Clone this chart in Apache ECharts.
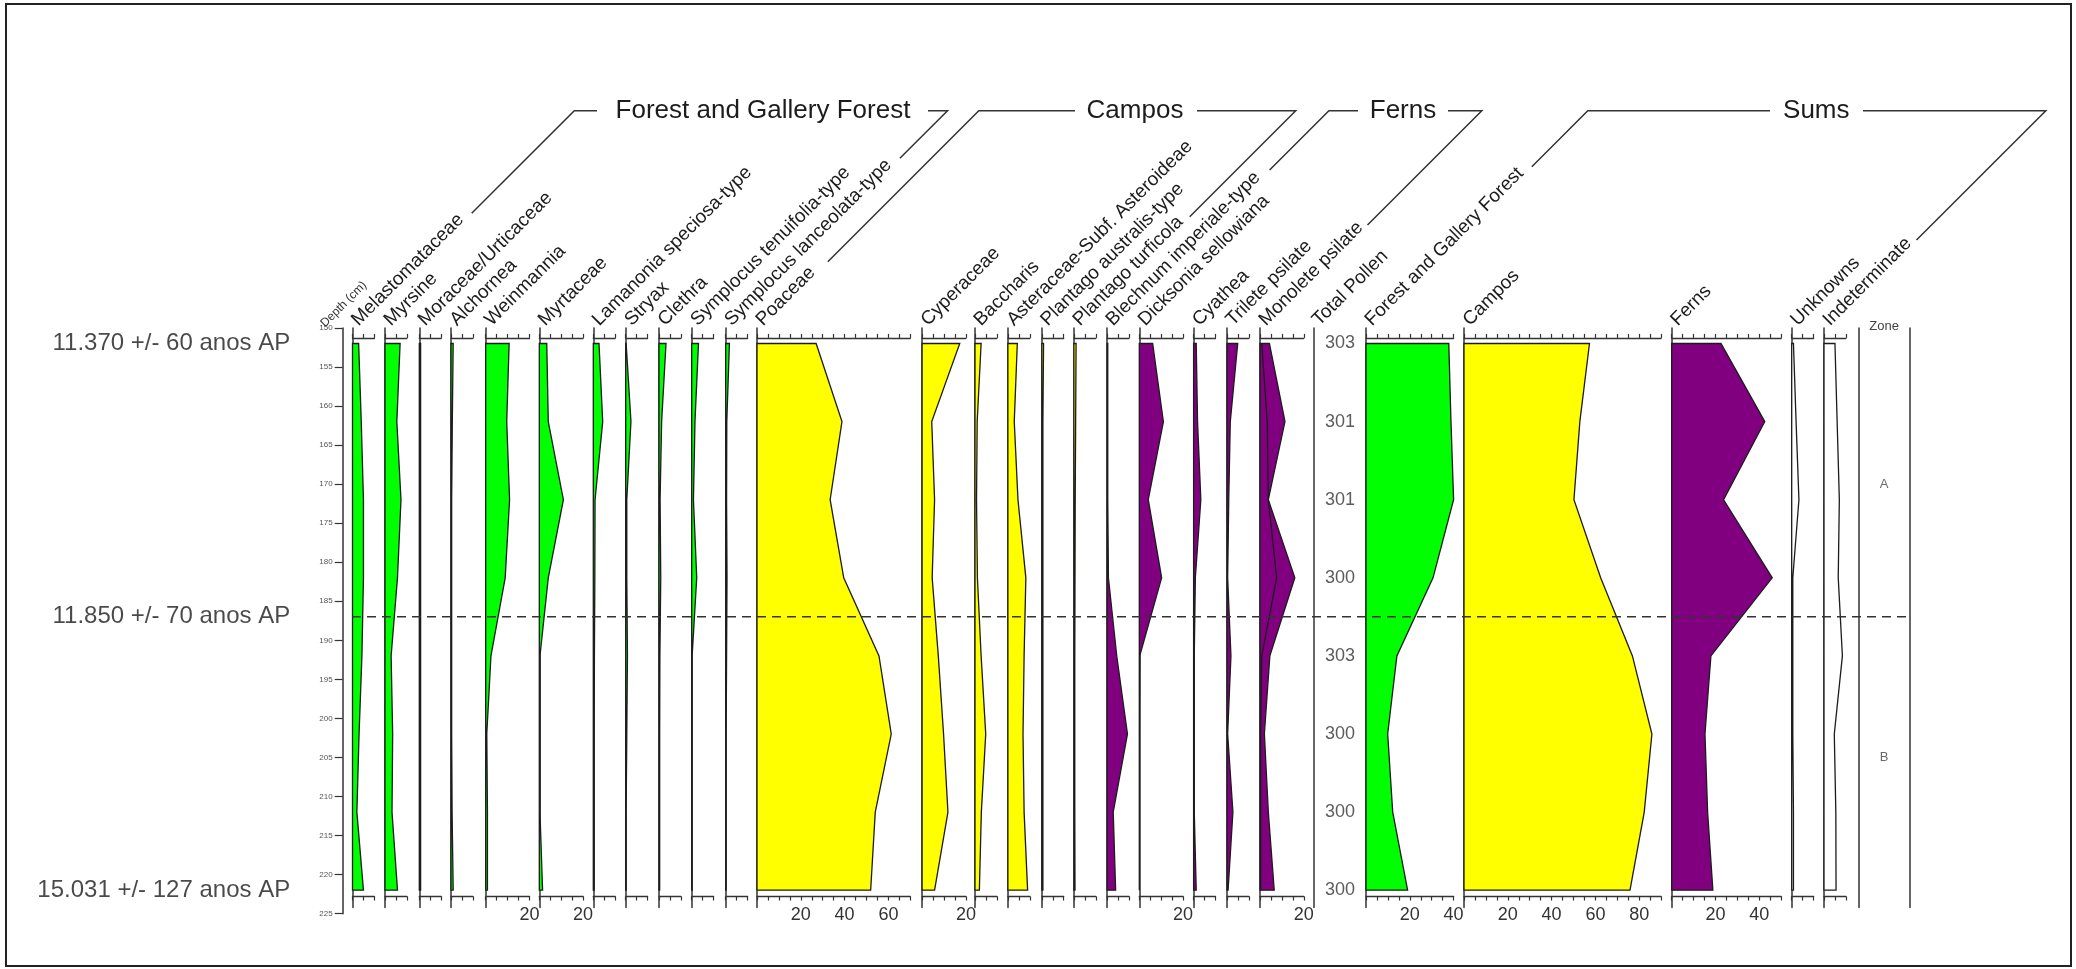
<!DOCTYPE html>
<html>
<head>
<meta charset="utf-8">
<title>Pollen diagram</title>
<script src="https://cdn.jsdelivr.net/npm/echarts@6/dist/echarts.min.js"></script>
<style>
html,body{margin:0;padding:0;background:#ffffff;}
#chart{width:2076px;height:969px;}
</style>
</head>
<body>
<div id="chart"></div>
<script>
// ---------------- data ----------------
const depths = [152, 162, 172, 182, 192, 202, 212, 222];

// Forest and Gallery Forest (%)
const melastomataceae     = [2.8, 4.0, 5.0, 5.0, 4.3, 3.0, 2.0, 5.0];
const myrsine             = [6.9, 5.4, 7.3, 5.7, 2.8, 3.5, 3.2, 5.7];
const moraceaeUrticaceae  = [0.6, 0.6, 0.6, 0.6, 0.6, 0.6, 0.6, 0.6];
const alchornea           = [1.0, 0.6, 0.3, 0.3, 0.3, 0.3, 0.5, 1.0];
const weinmannia          = [10.7, 9.6, 10.9, 8.9, 2.4, 0.5, 0.8, 0.8];
const myrtaceae           = [3.4, 4.1, 11.0, 4.1, 0.3, 0.3, 0.3, 1.5];
const lamanonia           = [2.6, 4.3, 0.8, 0.7, 0.5, 0.4, 0.4, 0.4];
const stryax              = [0.2, 2.4, 0.5, 0.5, 0.8, 0.5, 0.2, 0.2];
const clethra             = [3.2, 1.2, 0.5, 0.8, 0.4, 0.3, 0.3, 0.3];
const symplocusTenuifolia = [3.1, 1.5, 0.8, 2.3, 0.2, 0.2, 0.2, 0.2];
const symplocusLanceolata = [1.7, 0.5, 0.4, 0.6, 0.4, 0.2, 0.2, 0.2];

// Campos (%)
const poaceae           = [27.0, 38.8, 33.4, 39.6, 55.7, 61.3, 54.0, 51.9];
const cyperaceae        = [17.2, 4.4, 5.7, 4.6, 7.4, 9.8, 11.8, 5.7];
const baccharis         = [2.8, 1.0, 0.7, 1.1, 2.8, 4.9, 2.9, 2.0];
const asteraceae        = [4.3, 2.9, 4.6, 8.2, 7.4, 6.9, 7.4, 9.0];
const plantagoAustralis = [0.8, 0.5, 0.5, 0.5, 0.5, 0.5, 0.5, 0.5];
const plantagoTurficola = [1.0, 0.8, 0.6, 0.5, 0.4, 0.4, 0.4, 0.5];

// Ferns (%)
const blechnum      = [0.3, 0.3, 0.3, 0.6, 4.4, 9.3, 2.8, 3.9];
const dicksonia     = [6.1, 11.0, 4.1, 10.2, 0.2, 0, 0, 0];
const cyathea       = [1.2, 1.8, 3.3, 0.8, 0.3, 0.3, 0.3, 1.2];
const trilete       = [4.9, 1.5, 0.8, 0.3, 1.8, 0.3, 2.7, 0.5];
const monolete      = [4.3, 11.4, 3.8, 15.9, 4.5, 2.0, 3.8, 6.5];
const monoleteInner = [0.8, 3.3, 3.8, 7.6, 0.8, 0.3, 0.3, 0.3];

// Sums
const totalPollen   = [303, 301, 301, 300, 303, 300, 300, 300];
const forestSum     = [37.8, 38.8, 40.0, 30.6, 14.1, 9.9, 12.2, 19.0];
const camposSum     = [57.3, 52.9, 50.2, 62.4, 76.9, 85.8, 82.3, 75.8];
const fernsSum      = [22.5, 42.5, 23.7, 45.9, 17.9, 15.2, 16.4, 18.8];
const unknowns      = [0.8, 2.0, 3.3, 0.5, 0.5, 0.5, 0.8, 0.8];
const indeterminate = [5.0, 6.0, 7.0, 6.5, 8.4, 4.7, 5.4, 5.5];

// zones and ages
const zoneBoundary    = [187];
const zoneNames       = ['A', 'B'];
const zoneLabelDepths = [170, 205];
const ageLabels = ['11.370 +/- 60 anos AP', '11.850 +/- 70 anos AP', '15.031 +/- 127 anos AP'];
const ageDepths = [152, 187, 222];
const groupTitles = ['Forest and Gallery Forest', 'Campos', 'Ferns', 'Sums'];

// ---------------- layout ----------------
const FONT = "'Liberation Sans', Arial, sans-serif";
const PX = 2.19;          // px per percent
const TOP = 327.9;        // y of depth 150
const PXCM = 7.81;        // px per cm depth
const COL_MAX = 224.2;    // depth at bottom of column lines
const COL_H = (COL_MAX - 150) * PXCM;
const GREEN = '#00ff00', YELLOW = '#ffff00', PURPLE = '#800080', WHITE = '#ffffff';
const INK = '#1c1c1c';
const LABEL_DX = 9;

const columns = [
  ['Melastomataceae', melastomataceae, 352.5, 10, GREEN],
  ['Myrsine', myrsine, 385, 10, GREEN],
  ['Moraceae/Urticaceae', moraceaeUrticaceae, 419.3, 10, GREEN],
  ['Alchornea', alchornea, 451, 10, GREEN],
  ['Weinmannia', weinmannia, 485.7, 20, GREEN],
  ['Myrtaceae', myrtaceae, 539.3, 20, GREEN],
  ['Lamanonia speciosa-type', lamanonia, 593.3, 10, GREEN],
  ['Stryax', stryax, 625.7, 10, GREEN],
  ['Clethra', clethra, 659, 10, GREEN],
  ['Symplocus tenuifolia-type', symplocusTenuifolia, 691.7, 10, GREEN],
  ['Symplocus lanceolata-type', symplocusLanceolata, 725.7, 10, GREEN],
  ['Poaceae', poaceae, 757, 70, YELLOW],
  ['Cyperaceae', cyperaceae, 922.1, 20, YELLOW],
  ['Baccharis', baccharis, 975, 10, YELLOW],
  ['Asteraceae-Subf. Asteroideae', asteraceae, 1007.9, 10, YELLOW],
  ['Plantago australis-type', plantagoAustralis, 1041.8, 10, YELLOW],
  ['Plantago turficola', plantagoTurficola, 1073.9, 10, YELLOW],
  ['Blechnum imperiale-type', blechnum, 1107.1, 10, PURPLE],
  ['Dicksonia sellowiana', dicksonia, 1139.3, 20, PURPLE],
  ['Cyathea', cyathea, 1193.6, 10, PURPLE],
  ['Trilete psilate', trilete, 1227, 10, PURPLE],
  ['Monolete psilate', monolete, 1260, 20, PURPLE],
  ['Forest and Gallery Forest', forestSum, 1366, 40, GREEN],
  ['Campos', camposSum, 1464, 90, YELLOW],
  ['Ferns', fernsSum, 1671.7, 50, PURPLE],
  ['Unknowns', unknowns, 1791.7, 10, WHITE],
  ['Indeterminate', indeterminate, 1824, 10, WHITE]
];
const TOTAL_LEFT = 1313.3, TOTAL_W = 53.4;
const ZONE_LEFT = 1858.3, ZONE_W = 51.7;
const DEPTH_LEFT = 342.7;

const grid = [], xAxis = [], yAxis = [], series = [], graphic = [];

function addGrid(left, width, height) {
  grid.push({ left: left, width: width, top: TOP, height: height });
  return grid.length - 1;
}
function hiddenX(gi) {
  xAxis.push({ gridIndex: gi, type: 'value', min: 0, max: 1, show: false });
  return xAxis.length - 1;
}
function colY(gi, showLine, pos) {
  yAxis.push({
    gridIndex: gi, type: 'value', inverse: true, min: 150, max: COL_MAX, position: pos || 'left',
    axisLine: { show: showLine, onZero: false, lineStyle: { color: '#333', width: 1.5 } },
    axisTick: { show: false }, axisLabel: { show: false }, splitLine: { show: false }
  });
  return yAxis.length - 1;
}
function pctX(gi, max, pos, offset, labels) {
  xAxis.push({
    gridIndex: gi, type: 'value', min: 0, max: max, interval: 5, position: pos, offset: offset,
    axisLine: { show: true, onZero: false, lineStyle: { color: '#333', width: 1.3 } },
    axisTick: { show: true, length: 4, inside: false, lineStyle: { color: '#333', width: 1.2 } },
    axisLabel: {
      show: labels, fontSize: 18, color: '#333', margin: 10, fontFamily: FONT,
      formatter: function (v) { return (v > 0 && v % 20 === 0) ? String(v) : ''; }
    },
    splitLine: { show: false }
  });
  return xAxis.length - 1;
}
function areaSeries(values, xi, yi, fill) {
  return {
    type: 'custom', xAxisIndex: xi, yAxisIndex: yi, clip: false, silent: true, z: 3,
    data: values.map(function (v, i) { return [v, depths[i]]; }),
    renderItem: function (params, api) {
      if (params.dataIndex !== 0) return null;
      const pts = [api.coord([0, depths[0]])];
      for (let i = 0; i < values.length; i++) pts.push(api.coord([values[i], depths[i]]));
      pts.push(api.coord([0, depths[depths.length - 1]]));
      return { type: 'polygon', shape: { points: pts }, style: { fill: fill, stroke: INK, lineWidth: 1.3 } };
    }
  };
}
function headerLabel(text, x, size, color) {
  graphic.push({
    type: 'text', x: x, y: 329.5, rotation: Math.PI / 4, z: 10,
    style: { text: text, fontSize: size || 19, fontFamily: FONT, fill: color || INK, align: 'left', verticalAlign: 'bottom' }
  });
}

// taxon columns
const colIndex = {};
columns.forEach(function (c) {
  const gi = addGrid(c[2], c[3] * PX, COL_H);
  const xb = pctX(gi, c[3], 'bottom', -10.9, true);
  pctX(gi, c[3], 'top', -10, false);
  const yi = colY(gi, true);
  series.push(areaSeries(c[1], xb, yi, c[4]));
  if (c[0] === 'Monolete psilate') {
    series.push({
      type: 'line', xAxisIndex: xb, yAxisIndex: yi, showSymbol: false, silent: true, z: 4,
      data: monoleteInner.map(function (v, i) { return [v, depths[i]]; }),
      lineStyle: { color: INK, width: 1.3 }
    });
  }
  colIndex[c[0]] = c[2];
  headerLabel(c[0], c[2] + LABEL_DX);
});

// total pollen column
(function () {
  const gi = addGrid(TOTAL_LEFT, TOTAL_W, COL_H);
  const xi = hiddenX(gi);
  const yi = colY(gi, true);
  series.push({
    type: 'scatter', xAxisIndex: xi, yAxisIndex: yi, symbolSize: 1, silent: true,
    itemStyle: { color: 'rgba(0,0,0,0)' },
    data: totalPollen.map(function (v, i) { return [0.5, depths[i], v]; }),
    label: { show: true, position: 'inside', formatter: function (p) { return String(p.value[2]); },
             fontSize: 18, color: '#333', fontFamily: FONT }
  });
  headerLabel('Total Pollen', TOTAL_LEFT + LABEL_DX);
})();

// zone column
(function () {
  const gi = addGrid(ZONE_LEFT, ZONE_W, COL_H);
  const xi = hiddenX(gi);
  const yi = colY(gi, true, 'left');
  colY(gi, true, 'right');
  series.push({
    type: 'scatter', xAxisIndex: xi, yAxisIndex: yi, symbolSize: 1, silent: true,
    itemStyle: { color: 'rgba(0,0,0,0)' },
    data: zoneNames.map(function (n, i) { return [0.5, zoneLabelDepths[i], n]; }),
    label: { show: true, position: 'inside', formatter: function (p) { return p.value[2]; },
             fontSize: 13, color: '#444', fontFamily: FONT }
  });
  graphic.push({ type: 'text', x: ZONE_LEFT + ZONE_W / 2, y: 326, z: 10,
    style: { text: 'Zone', fontSize: 13, fontFamily: FONT, fill: '#444', align: 'center', verticalAlign: 'middle' } });
})();

// depth axis + age labels
(function () {
  const gi = addGrid(DEPTH_LEFT, 1, 75 * PXCM);
  const xi = hiddenX(gi);
  yAxis.push({
    gridIndex: gi, type: 'value', inverse: true, min: 150, max: 225, interval: 5, position: 'left',
    axisLine: { show: true, onZero: false, lineStyle: { color: '#333', width: 1.5 } },
    axisTick: { show: true, length: 8, inside: false, lineStyle: { color: '#333', width: 1.2 } },
    axisLabel: { show: true, fontSize: 8, color: '#555', margin: 10, fontFamily: FONT },
    splitLine: { show: false }
  });
  const yi = yAxis.length - 1;
  series.push({
    type: 'scatter', xAxisIndex: xi, yAxisIndex: yi, symbolSize: 1, silent: true,
    itemStyle: { color: 'rgba(0,0,0,0)' },
    data: ageLabels.map(function (t, i) { return [0, ageDepths[i], t]; }),
    label: { show: true, position: 'left', distance: 52, formatter: function (p) { return p.value[2]; },
             fontSize: 24, color: INK, fontFamily: FONT }
  });
  headerLabel('Depth (cm)', 327, 12, '#333');
})();

// zone boundary dashed line across all columns
(function () {
  const gi = addGrid(352, 1555, COL_H);
  const xi = hiddenX(gi);
  yAxis.push({ gridIndex: gi, type: 'value', inverse: true, min: 150, max: COL_MAX, show: false });
  const yi = yAxis.length - 1;
  zoneBoundary.forEach(function (d) {
    series.push({
      type: 'line', xAxisIndex: xi, yAxisIndex: yi, showSymbol: false, silent: true, z: 8,
      data: [[0, d], [1, d]],
      lineStyle: { color: '#333', width: 1.5, type: [9, 6] }
    });
  });
})();

// group titles with bracket lines
function diagX(left, y) { return left + 3 + (329.5 - y); }
const GY = 110.7;
const brackets = [
  { title: groupTitles[0], cx: 763, first: 'Melastomataceae', last: 'Symplocus lanceolata-type', y1: 213.3, y2: 158.3, h1: 597, h2: 928 },
  { title: groupTitles[1], cx: 1135, first: 'Poaceae', last: 'Plantago turficola', y1: 261.7, y2: 216.7, h1: 1075, h2: 1197 },
  { title: groupTitles[2], cx: 1403, first: 'Blechnum imperiale-type', last: 'Monolete psilate', y1: 170, y2: 225, h1: 1358, h2: 1448 },
  { title: groupTitles[3], cx: 1816.3, first: 'Forest and Gallery Forest', last: 'Indeterminate', y1: 166.7, y2: 240, h1: 1770, h2: 1863 }
];
brackets.forEach(function (b) {
  const l = colIndex[b.first], r = colIndex[b.last];
  graphic.push({ type: 'polyline', z: 10, shape: { points: [[diagX(l, b.y1), b.y1], [diagX(l, GY), GY], [b.h1, GY]] },
    style: { stroke: '#333', lineWidth: 1.5, fill: null } });
  graphic.push({ type: 'polyline', z: 10, shape: { points: [[b.h2, GY], [diagX(r, GY), GY], [diagX(r, b.y2), b.y2]] },
    style: { stroke: '#333', lineWidth: 1.5, fill: null } });
  graphic.push({ type: 'text', x: b.cx, y: GY, z: 10,
    style: { text: b.title, fontSize: 26, fontFamily: FONT, fill: INK, align: 'center', verticalAlign: 'middle' } });
});

// frame
graphic.push({ type: 'rect', z: 20, shape: { x: 6, y: 4, width: 2065, height: 962 },
  style: { fill: null, stroke: '#222', lineWidth: 2 } });

const chart = echarts.init(document.getElementById('chart'), null, { renderer: 'canvas' });
chart.setOption({
  animation: false,
  backgroundColor: '#ffffff',
  textStyle: { fontFamily: FONT },
  grid: grid, xAxis: xAxis, yAxis: yAxis, series: series, graphic: graphic
});
</script>
</body>
</html>
